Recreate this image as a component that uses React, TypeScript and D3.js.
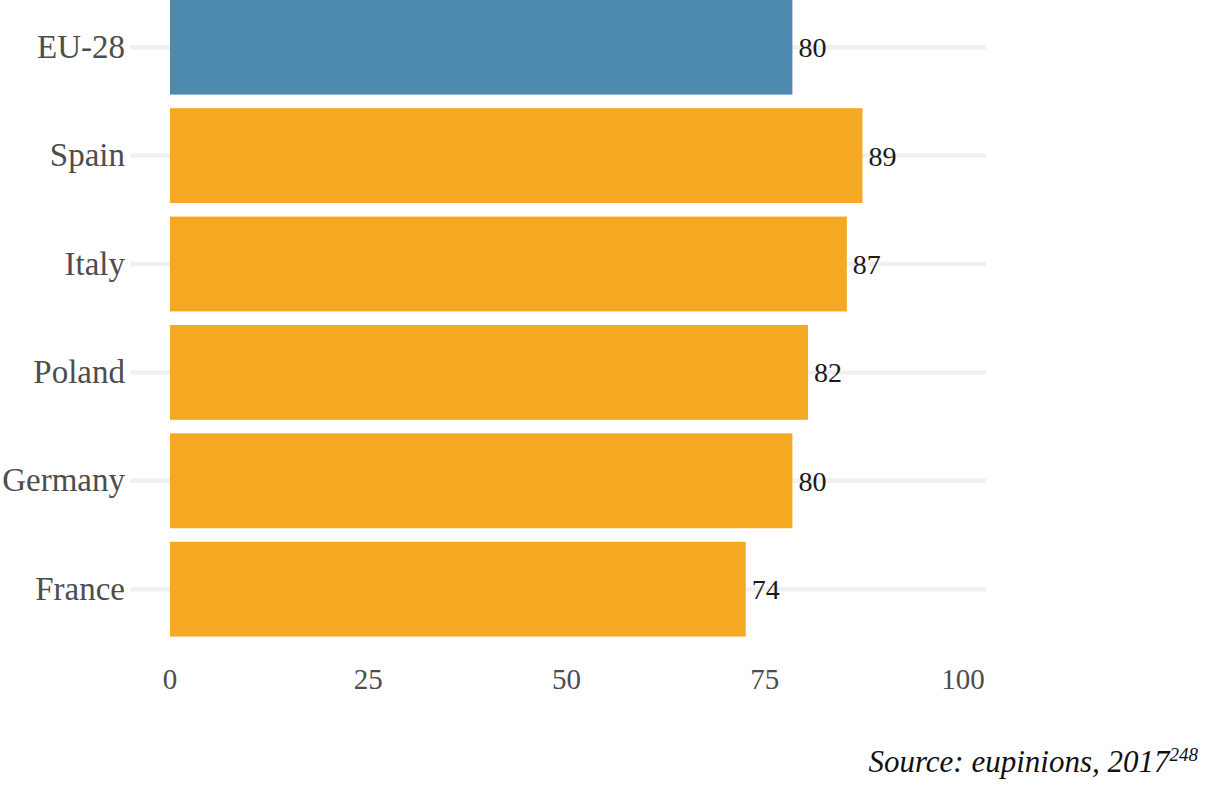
import React from "react";
import * as d3 from "d3";

const categories = ["EU-28", "Spain", "Italy", "Poland", "Germany", "France"];
const values = [80, 89, 87, 82, 80, 74];
const highlight = ["EU-28"];
const ticks = [0, 25, 50, 75, 100];
const sourceText = "Source: eupinions, 2017";
const footnote = "248";

const W = 1207;
const H = 787;
const FONT = "'Liberation Serif', 'DejaVu Serif', serif";

export default function App() {
  const x = d3.scaleLinear().domain([0, 100]).range([170, 948]);
  const xAxis = d3.scaleLinear().domain([0, 100]).range([170, 963]);
  const y = d3
    .scaleBand<string>()
    .domain(categories)
    .range([-7, 643.4])
    .paddingInner(0.125)
    .paddingOuter(0.0625);

  return (
    <svg
      width={W}
      height={H}
      style={{ position: "absolute", left: 0, top: 0, background: "#fff", display: "block" }}
      fontFamily={FONT}
    >
      {categories.map((c) => {
        const cy = (y(c) as number) + y.bandwidth() / 2;
        return (
          <line key={"g" + c} x1={130} x2={986} y1={cy} y2={cy} stroke="#f0f0f0" strokeWidth={4.5} />
        );
      })}
      {categories.map((c, i) => {
        const top = y(c) as number;
        return (
          <rect
            key={"b" + c}
            x={x(0)}
            y={top}
            width={x(values[i]) - x(0)}
            height={y.bandwidth()}
            fill={highlight.includes(c) ? "#4e8ab0" : "#f5a922"}
          />
        );
      })}
      {categories.map((c, i) => {
        const cy = (y(c) as number) + y.bandwidth() / 2;
        return (
          <g key={"t" + c}>
            <text
              x={125}
              y={cy}
              dy="0.32em"
              textAnchor="end"
              fontSize={33}
              fill="#4d4d4d"
            >
              {c}
            </text>
            <text x={x(values[i]) + 6} y={cy} dy="0.36em" fontSize={28} fill="#1a1a1a">
              {values[i]}
            </text>
          </g>
        );
      })}
      {ticks.map((t) => (
        <text key={"x" + t} x={xAxis(t)} y={689} textAnchor="middle" fontSize={29} fill="#4d4d4d">
          {t}
        </text>
      ))}
      <text x={1198} y={772} textAnchor="end" fontSize={31} fontStyle="italic" fill="#111">
        {sourceText}
        <tspan fontSize={19} dy={-11}>
          {footnote}
        </tspan>
      </text>
    </svg>
  );
}
